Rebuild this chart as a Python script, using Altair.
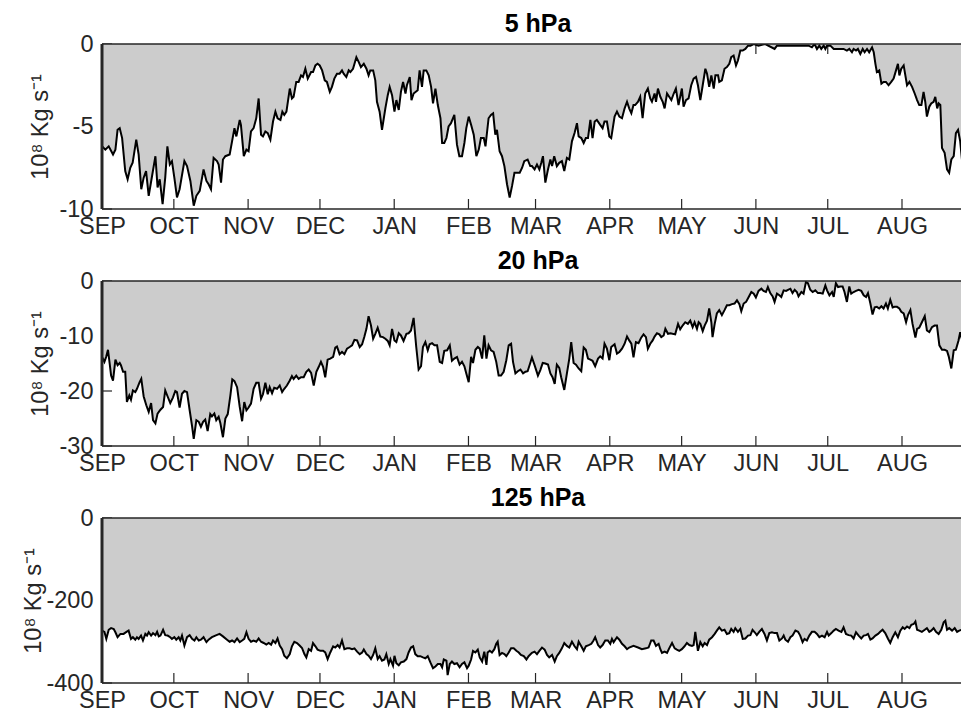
import altair as alt
import pandas as pd

MONTHS = ["SEP", "OCT", "NOV", "DEC", "JAN", "FEB", "MAR", "APR", "MAY", "JUN", "JUL", "AUG"]
MONTH_START = [0, 30, 61, 91, 122, 153, 181, 212, 242, 273, 303, 334]

TITLES = ["5 hPa", "20 hPa", "125 hPa"]
Y_MIN = [-10, -30, -400]
Y_TICKS = [[0, -5, -10], [0, -10, -20, -30], [0, -200, -400]]

# (day since 1 Sep, value in 10^8 kg/s)
P5 = [(0.0,-6.2),(1.4,-6.4),(2.8,-6.2),(4.6,-6.7),(5.6,-6.4),(6.5,-5.2),(7.4,-5.1),(8.4,-5.7),(9.7,-7.7),(10.7,-8.2),(11.8,-7.5),(12.8,-7.2),(14.3,-5.8),(15.3,-6.7),(16.4,-8.8),(17.4,-8.1),(18.4,-7.7),(19.5,-9.2),(20.9,-8.0),(22.3,-6.8),(23.2,-8.7),(24.1,-8.2),(25.3,-9.7),(26.4,-8.1),(27.3,-6.2),(28.3,-7.3),(29.2,-7.1),(30.2,-8.1),(31.3,-9.3),(32.4,-8.8),(34.4,-7.1),(35.5,-7.4),(36.9,-8.3),(38.3,-9.8),(39.4,-9.2),(40.8,-8.9),(42.4,-7.6),(43.6,-8.3),(44.5,-8.5),(45.5,-8.8),(46.6,-6.9),(48.0,-7.1),(48.7,-7.3),(49.7,-8.4),(50.5,-7.0),(51.5,-6.8),(53.3,-6.7),(54.3,-5.9),(55.3,-5.1),(56.1,-5.6),(57.5,-4.6),(58.0,-4.9),(59.2,-6.8),(60.3,-6.4),(61.2,-6.5),(62.2,-5.3),(63.3,-5.1),(64.4,-4.5),(65.4,-3.3),(66.4,-5.5),(67.2,-5.6),(68.2,-5.3),(69.2,-5.4),(70.3,-5.8),(71.4,-4.7),(72.4,-4.1),(73.3,-4.5),(74.5,-4.6),(75.3,-4.1),(76.1,-4.3),(77.0,-4.1),(78.4,-2.7),(79.3,-3.3),(80.0,-3.2),(81.1,-2.3),(82.1,-2.3),(83.1,-1.9),(83.9,-2.0),(84.9,-1.5),(85.9,-2.1),(87.3,-1.7),(88.1,-1.7),(89.1,-1.3),(90.0,-1.2),(90.9,-1.3),(91.9,-1.6),(93.0,-2.2),(93.9,-2.3),(95.1,-2.9),(96.0,-2.6),(97.0,-2.1),(98.1,-1.8),(99.2,-1.8),(100.2,-1.6),(100.9,-1.8),(102.0,-2.0),(103.0,-1.6),(103.7,-1.7),(104.8,-1.5),(106.2,-0.8),(107.2,-1.1),(108.1,-1.4),(109.3,-1.2),(110.4,-1.5),(111.3,-1.9),(112.0,-1.6),(113.2,-1.6),(114.1,-2.2),(114.8,-3.5),(115.9,-4.1),(116.9,-5.2),(118.3,-3.9),(119.3,-3.1),(120.1,-2.6),(121.1,-3.1),(122.1,-4.1),(122.9,-3.4),(123.9,-4.0),(124.8,-2.9),(125.7,-2.3),(126.7,-3.0),(127.3,-2.5),(128.5,-2.0),(129.2,-3.4),(130.1,-3.0),(131.8,-2.8),(132.6,-1.6),(133.6,-2.6),(134.3,-1.6),(135.4,-1.6),(136.4,-1.9),(137.4,-2.6),(138.2,-3.6),(139.2,-2.7),(140.2,-3.7),(141.3,-4.5),(142.0,-6.0),(142.9,-6.0),(143.8,-5.7),(144.7,-5.0),(145.7,-4.8),(147.1,-4.3),(148.2,-6.1),(149.2,-6.8),(150.3,-6.8),(151.3,-6.0),(152.1,-5.1),(153.1,-4.4),(154.1,-4.9),(155.2,-5.5),(156.3,-6.8),(157.3,-6.4),(158.2,-5.7),(159.4,-5.7),(160.1,-6.2),(161.4,-4.5),(162.4,-4.3),(163.3,-4.2),(164.2,-5.5),(164.9,-5.2),(166.0,-6.5),(167.0,-6.8),(168.0,-7.4),(169.1,-8.5),(170.2,-9.3),(171.2,-8.6),(172.2,-7.8),(173.3,-7.8),(174.4,-7.8),(175.4,-7.5),(176.3,-7.1),(177.7,-7.0),(178.8,-7.4),
(179.5,-7.4),(180.6,-7.6),(181.6,-7.3),(182.6,-7.6),(183.4,-7.2),(184.1,-6.8),(185.1,-8.4),(186.2,-7.6),(187.2,-7.0),(187.9,-7.4),(188.8,-6.8),(189.9,-7.4),(190.9,-7.2),(192.0,-7.1),(193.0,-7.7),(194.1,-6.9),(195.1,-7.0),(196.2,-5.9),(197.3,-5.4),(198.3,-4.8),(199.0,-5.6),(200.1,-5.7),(201.1,-6.0),(202.0,-5.7),(202.9,-5.7),(203.9,-4.6),(204.8,-5.7),(205.7,-4.7),(206.6,-4.6),(208.0,-4.9),(209.0,-5.1),(209.8,-4.7),(210.8,-4.7),(211.8,-5.6),(212.6,-5.7),(214.0,-4.4),(215.0,-4.1),(216.0,-4.4),(217.1,-4.5),(218.2,-3.9),(219.2,-3.5),(220.1,-3.9),(221.0,-4.2),(221.9,-3.7),(222.6,-3.7),(223.8,-3.5),(224.7,-3.2),(225.7,-4.5),(226.8,-3.0),(227.9,-2.7),(228.9,-3.3),(229.6,-3.5),(230.7,-3.0),(231.3,-3.5),(232.1,-2.7),(233.1,-3.2),(234.1,-3.5),(234.9,-3.9),(235.9,-3.0),(236.8,-3.2),(237.7,-3.4),(238.7,-3.0),(239.6,-2.7),(240.7,-3.7),(241.4,-3.2),(242.1,-2.7),(242.8,-3.8),(243.8,-3.4),(244.9,-3.3),(246.0,-2.5),(247.0,-2.1),(248.0,-2.0),(248.8,-2.5),(249.8,-3.4),(250.8,-2.5),(251.9,-1.5),(252.6,-1.8),(253.5,-2.6),(254.4,-1.9),(255.4,-2.7),(256.1,-1.9),(257.2,-1.9),(257.7,-2.3),(258.8,-2.2),(259.9,-1.5),(260.9,-1.4),(261.9,-1.2),(262.7,-0.8),(263.7,-0.7),(264.7,-1.3),(265.5,-1.0),(266.5,-0.4),(267.5,-0.4),(268.6,-0.3),(269.7,-0.1),(270.7,-0.1),(272.1,0.0),(274.1,-0.1),(276.9,0.0),(280.8,-0.3),(281.8,-0.1),(285.3,-0.1),(286.7,-0.1),(288.8,-0.1),(290.8,-0.1),(292.9,-0.1),(295.0,-0.1),(296.4,-0.2),(297.5,0.0),(298.5,-0.3),(299.5,-0.1),(300.3,-0.3),(301.3,-0.1),(302.0,-0.3),(302.7,-0.1),(304.1,-0.1),(305.5,-0.3),(306.8,-0.3),(308.2,-0.3),(309.6,-0.3),(311.0,-0.4),(312.0,-0.3),(313.1,-0.5),(313.8,-0.3),(314.8,-0.4),(315.6,-0.3),(316.6,-0.6),(317.6,-0.3),(318.4,-0.5),(319.4,-0.3),(320.3,-0.5),(321.5,-0.2),(322.2,-0.5),(322.9,-1.2),(323.5,-1.7),(324.5,-1.6),(325.4,-2.4),(326.3,-2.3),(327.3,-2.3),(328.4,-2.5),(329.5,-2.3),(330.5,-2.1),(331.5,-1.6),(332.3,-1.2),(332.9,-1.9),(333.7,-1.5),(334.7,-1.3),(335.4,-1.9),(336.1,-2.5),(337.1,-2.3),(338.2,-2.6),(339.3,-3.0),(340.3,-3.4),(341.2,-3.7),(342.1,-3.7),(343.0,-2.9),(343.7,-3.5),(344.4,-4.4),(345.4,-3.8),(346.2,-3.6),(347.2,-3.5),(347.9,-3.2),(348.7,-3.9),(349.3,-3.6),(350.0,-3.7),(350.7,-6.3),(351.8,-6.6),(352.8,-7.6),(353.7,-7.8),(354.6,-7.0),(355.6,-6.8),(356.5,-5.4),(357.4,-5.2),(358.3,-5.9),(359.3,-7.4),(360.2,-7.7),(361.1,-6.9),(362.1,-6.2),(362.4,-5.9)]

P20 = [(0.0,-13.8),(1.0,-14.7),(1.8,-13.7),(2.5,-12.5),(3.2,-15.0),(3.8,-17.2),(4.6,-18.1),(5.6,-14.3),(6.5,-15.3),(7.4,-14.9),(7.9,-15.3),(8.8,-16.5),(9.7,-16.5),(10.4,-22.0),(11.4,-20.8),(12.1,-21.6),(12.9,-19.9),(13.9,-20.2),(14.6,-19.6),(15.7,-18.4),(16.4,-17.8),(17.4,-21.0),(18.5,-22.6),(19.5,-23.8),(20.5,-22.2),(21.3,-25.3),(22.3,-25.9),(23.2,-24.1),(24.4,-23.4),(25.5,-22.9),(26.4,-19.9),(27.4,-21.0),(28.5,-22.2),(29.6,-21.2),(30.6,-20.0),(31.3,-20.2),(32.4,-23.0),(33.4,-20.5),(34.4,-20.0),(35.5,-20.2),(36.6,-23.5),(37.6,-26.4),(38.3,-28.7),(39.4,-25.3),(40.4,-25.6),(41.3,-26.5),(42.2,-25.6),(43.1,-25.2),(44.1,-27.3),(45.2,-24.2),(45.9,-24.6),(46.9,-24.1),(47.7,-25.3),(48.7,-24.7),(49.4,-25.8),(50.5,-28.4),(51.5,-25.0),(52.5,-24.2),(53.6,-20.8),(54.4,-17.9),(55.3,-18.2),(56.4,-19.3),(57.5,-22.9),(58.5,-25.5),(59.4,-22.0),(60.3,-23.5),(61.2,-23.0),(62.2,-22.3),(63.3,-19.6),(64.4,-18.5),(65.4,-18.5),(66.4,-21.4),(67.2,-20.6),(68.2,-18.5),(69.2,-20.6),(70.0,-19.3),(71.0,-20.4),(71.9,-19.4),(73.1,-19.6),(74.2,-19.0),(75.2,-20.2),(76.1,-19.6),(77.2,-19.0),(78.4,-18.1),(79.3,-17.3),(80.0,-17.8),(81.1,-17.2),(82.1,-17.8),(83.1,-17.5),(84.2,-17.5),(85.3,-16.5),(86.3,-16.1),(87.3,-16.7),(88.4,-19.0),(89.5,-16.5),(90.5,-15.6),(91.4,-14.7),(92.3,-15.6),(93.2,-17.5),(94.2,-14.3),(95.3,-14.1),(96.5,-13.8),(97.4,-12.1),(98.1,-11.9),(99.2,-13.3),(100.2,-12.9),(101.2,-13.3),(102.3,-12.3),(103.4,-12.0),(104.4,-11.7),(105.4,-10.7),(106.5,-10.8),(107.6,-12.0),(108.6,-11.5),(109.5,-10.2),(110.4,-8.7),(111.3,-6.4),(112.3,-8.1),(113.2,-10.5),(114.1,-9.6),(115.1,-8.5),(116.2,-10.1),(117.3,-10.2),(118.3,-10.5),(119.3,-10.9),(120.1,-11.7),(121.1,-8.7),(122.1,-10.8),(122.9,-11.1),(123.9,-9.5),(124.8,-9.9),(125.9,-10.9),(127.1,-9.6),(128.0,-9.5),(129.0,-9.0),(130.1,-6.7),(131.2,-12.0),(132.2,-16.1),(133.2,-15.5),(134.0,-12.0),(135.0,-11.1),(136.0,-12.6),(136.8,-11.5),(137.8,-11.3),(138.8,-11.7),(139.9,-11.7),(141.0,-14.7),(142.0,-14.9),(142.9,-12.7),(144.1,-12.6),(145.2,-11.7),(146.1,-14.5),(147.1,-14.1),(148.2,-13.8),(149.3,-15.2),(150.3,-14.7),(151.3,-15.5),(152.1,-16.8),(153.1,-18.4),(154.1,-13.8),(154.9,-14.9),(155.9,-12.5),(156.9,-12.0),(157.7,-12.3),(158.7,-14.1),(159.6,-9.9),(160.5,-14.1),(161.4,-11.7),(162.4,-12.6),(163.5,-12.9),(164.6,-14.7),(165.6,-17.2),(166.6,-17.2),(167.7,-16.5),(168.8,-14.4),(169.8,-11.7),(170.8,-11.4),(171.6,-14.7),(172.6,-16.8),(173.6,-16.4),(174.7,-16.1),(175.8,-16.8),(176.8,-16.5),(177.7,-16.4),(178.8,-14.9),
(179.5,-13.9),(180.6,-15.3),(182.0,-17.2),(183.0,-16.2),(184.0,-14.9),(185.1,-15.0),(186.2,-15.2),(187.2,-16.8),(188.1,-17.5),(189.0,-18.7),(189.9,-15.2),(190.9,-15.8),(191.7,-17.5),(193.0,-19.8),(194.1,-16.8),(195.1,-14.1),(195.9,-11.1),(196.9,-14.9),(197.9,-15.2),(199.0,-15.9),(200.1,-16.4),(201.1,-12.1),(202.0,-12.5),(202.9,-14.1),(203.9,-14.3),(204.8,-14.5),(205.9,-15.5),(207.1,-14.1),(208.0,-13.7),(209.0,-14.1),(209.8,-11.4),(210.8,-12.3),(211.8,-14.4),(212.6,-12.0),(214.0,-11.5),(215.0,-13.2),(216.0,-12.9),(217.1,-12.3),(218.2,-11.4),(219.2,-10.1),(220.1,-10.8),(221.0,-11.4),(221.9,-13.9),(222.9,-11.1),(224.0,-11.3),(225.1,-10.3),(226.1,-9.7),(227.1,-10.2),(227.9,-12.3),(228.9,-11.4),(229.9,-10.8),(230.7,-10.1),(231.7,-9.5),(232.7,-9.7),(233.5,-10.2),(234.5,-9.9),(235.2,-8.7),(236.3,-9.6),(237.3,-9.5),(238.2,-9.6),(239.3,-9.7),(240.5,-7.8),(241.4,-8.8),(242.4,-8.1),(243.5,-7.5),(244.6,-7.8),(245.6,-7.2),(246.6,-8.4),(247.4,-7.5),(248.4,-8.7),(249.1,-7.5),(249.8,-7.8),(250.8,-9.1),(251.6,-8.1),(252.6,-7.2),(253.5,-5.0),(254.4,-7.5),(254.9,-10.2),(255.8,-7.8),(256.7,-5.9),(257.7,-5.3),(258.8,-6.2),(259.9,-5.3),(260.9,-4.4),(261.9,-4.4),(263.0,-4.2),(264.1,-4.1),(265.1,-3.5),(266.1,-4.2),(266.9,-5.5),(267.9,-4.1),(268.9,-3.8),(270.0,-2.9),(271.1,-2.0),(272.1,-2.3),(273.0,-3.0),(274.1,-1.8),(275.3,-1.4),(276.2,-1.8),(277.2,-2.0),(278.0,-1.1),(279.0,-2.2),(280.0,-2.8),(280.8,-3.8),(281.8,-2.3),(282.8,-2.6),(283.6,-2.9),(284.6,-1.7),(285.6,-1.8),(286.4,-1.6),(287.4,-1.4),(288.3,-2.2),(289.2,-1.6),(290.1,-2.0),(290.8,-2.8),(292.0,-2.0),(292.9,-2.3),(293.9,-0.2),(294.7,-0.4),(295.7,-1.6),(296.7,-2.0),(297.8,-1.7),(298.9,-2.2),(299.9,-2.2),(300.9,-2.3),(302.0,-0.8),(302.7,-1.7),(303.7,-2.6),(304.8,-2.0),(305.5,-2.9),(306.4,-0.4),(307.3,-1.1),(308.2,-1.0),(309.2,-1.0),(310.0,-2.0),(311.0,-3.8),(312.0,-1.0),(312.8,-2.3),(313.8,-2.0),(314.8,-1.8),(315.9,-1.6),(317.0,-1.8),(318.0,-2.6),(319.0,-2.9),(319.8,-2.2),(320.8,-4.1),(321.7,-6.1),(322.6,-4.8),(323.5,-4.7),(324.5,-5.0),(325.4,-4.6),(326.3,-5.0),(327.3,-4.1),(328.1,-5.0),(329.1,-3.4),(330.1,-4.8),(330.9,-4.7),(331.9,-4.7),(332.9,-5.0),(333.7,-5.6),(334.7,-5.9),(335.7,-7.5),(336.5,-6.2),(337.5,-5.3),(338.4,-7.8),(339.6,-10.3),(340.3,-8.7),(341.2,-8.5),(342.3,-7.5),(343.5,-6.4),(344.4,-9.0),(345.4,-9.3),(346.5,-8.4),(347.6,-8.1),(348.6,-8.1),(349.6,-11.7),(350.7,-12.5),(351.8,-12.5),(352.8,-12.7),(353.5,-13.7),(354.6,-15.9),(355.6,-12.6),(356.5,-12.5),(357.6,-10.8),(358.3,-9.3),(359.3,-11.1),(360.4,-12.9),(361.5,-14.1),(362.4,-13.8)]

P125 = [(0.0,-273),(1.0,-276),(1.8,-293),(2.8,-271),(3.8,-267),(4.9,-269),(5.6,-277),(6.5,-289),(7.7,-281),(9.0,-281),(10.2,-276),(11.1,-273),(12.1,-293),(12.9,-289),(13.9,-295),(14.6,-289),(15.3,-293),(16.3,-285),(17.1,-297),(18.1,-281),(18.8,-285),(19.5,-277),(20.5,-285),(21.3,-279),(22.3,-284),(23.0,-276),(23.7,-287),(24.4,-285),(25.5,-271),(26.4,-284),(27.4,-285),(28.5,-289),(29.2,-293),(30.2,-289),(31.0,-295),(32.0,-289),(32.7,-297),(33.4,-285),(34.4,-309),(35.5,-289),(36.6,-284),(37.6,-293),(38.6,-297),(39.4,-289),(40.4,-297),(41.3,-295),(42.4,-289),(43.6,-301),(44.5,-295),(45.9,-289),(47.3,-285),(49.1,-281),(50.5,-287),(52.2,-295),(53.3,-300),(54.3,-297),(55.3,-301),(56.4,-292),(57.5,-301),(58.5,-297),(59.4,-293),(60.3,-277),(61.2,-293),(62.2,-300),(63.3,-297),(64.4,-300),(65.4,-292),(66.4,-300),(67.5,-303),(68.6,-307),(69.6,-303),(70.6,-307),(71.4,-297),(72.4,-303),(73.3,-292),(74.2,-309),(75.2,-318),(76.1,-334),(77.2,-340),(78.4,-330),(79.3,-311),(80.3,-300),(81.4,-303),(82.5,-309),(83.5,-315),(84.5,-330),(85.3,-338),(86.3,-318),(87.3,-322),(88.1,-303),(89.1,-311),(90.0,-319),(91.2,-322),(92.3,-322),(93.2,-326),(94.2,-342),(95.3,-326),(96.5,-311),(97.4,-314),(98.4,-308),(99.2,-314),(100.2,-297),(101.2,-318),(102.3,-316),(103.4,-316),(104.4,-318),(105.4,-316),(106.5,-324),(107.6,-330),(108.6,-326),(109.3,-319),(110.4,-330),(111.3,-334),(112.3,-342),(113.2,-332),(114.1,-316),(115.1,-342),(115.9,-335),(116.9,-346),(117.9,-343),(118.7,-330),(119.7,-354),(120.4,-342),(121.5,-358),(122.1,-334),(122.9,-352),(123.9,-357),(124.8,-350),(126.0,-348),(127.1,-342),(128.0,-326),(129.0,-314),(129.9,-311),(130.8,-330),(131.8,-335),(132.9,-335),(134.0,-338),(135.0,-340),(136.0,-335),(137.1,-350),(138.2,-364),(139.2,-360),(140.2,-354),(141.3,-354),(142.0,-362),(142.7,-343),(143.8,-346),(144.3,-381),(145.2,-354),(146.1,-348),(147.1,-354),(148.2,-352),(149.3,-362),(150.3,-354),(151.3,-350),(152.4,-364),(153.1,-358),(154.1,-343),(154.9,-322),(155.9,-326),(156.9,-319),(157.7,-338),(158.7,-348),(159.6,-324),(160.5,-356),(161.0,-326),(161.9,-322),(162.8,-326),(163.8,-318),(164.6,-305),(165.2,-300),(166.0,-332),(167.0,-327),(168.0,-330),(168.8,-335),(169.8,-326),(170.8,-316),(171.9,-316),(173.0,-322),(174.0,-326),(174.9,-332),(176.1,-335),(177.2,-343),(178.1,-335),
(179.5,-327),(180.6,-324),(181.6,-330),(182.6,-322),(183.7,-314),(184.8,-319),(185.8,-332),(186.7,-338),(187.9,-332),(189.0,-348),(189.9,-335),(190.9,-327),(192.0,-316),(193.0,-303),(194.1,-310),(195.1,-314),(196.2,-300),(197.3,-311),(198.3,-318),(199.0,-300),(200.1,-311),(201.1,-322),(202.0,-311),(203.2,-308),(204.3,-305),(205.2,-297),(205.9,-289),(207.1,-308),(208.0,-314),(209.0,-308),(210.1,-297),(211.2,-297),(212.2,-305),(212.9,-293),(213.6,-301),(215.0,-289),(216.0,-295),(217.1,-305),(218.2,-311),(219.2,-318),(220.1,-314),(221.9,-310),(223.8,-314),(225.4,-318),(227.1,-316),(228.2,-314),(229.3,-297),(230.3,-297),(231.3,-310),(232.4,-305),(233.1,-318),(233.8,-327),(234.9,-324),(235.9,-327),(236.8,-316),(238.0,-303),(239.1,-316),(240.0,-319),(241.0,-322),(242.1,-318),(243.2,-311),(244.2,-303),(245.2,-308),(246.3,-310),(247.0,-308),(247.7,-276),(248.8,-322),(249.8,-301),(250.8,-311),(251.6,-303),(252.6,-308),(253.5,-295),(254.7,-289),(255.8,-281),(256.7,-273),(257.7,-265),(258.8,-273),(259.9,-271),(260.9,-281),(261.9,-279),(262.7,-269),(263.7,-276),(264.4,-267),(265.5,-276),(266.5,-269),(267.5,-293),(268.6,-292),(269.7,-285),(270.7,-284),(271.6,-271),(272.5,-277),(273.4,-284),(274.4,-276),(275.5,-269),(276.6,-281),(277.6,-297),(278.6,-279),(279.7,-277),(280.8,-279),(281.8,-279),(282.8,-297),(283.9,-292),(284.6,-285),(285.3,-295),(286.4,-300),(287.4,-289),(288.3,-285),(289.5,-273),(290.6,-276),(291.5,-285),(292.5,-301),(293.3,-293),(294.3,-297),(295.3,-285),(296.4,-276),(297.5,-276),(298.5,-281),(299.5,-289),(300.6,-285),(301.7,-289),(302.7,-276),(303.4,-285),(304.5,-279),(305.5,-273),(306.4,-269),(307.5,-273),(308.7,-276),(309.6,-265),(310.6,-281),(311.7,-284),(312.8,-285),(313.8,-292),(314.8,-277),(315.9,-285),(317.0,-292),(318.0,-285),(319.0,-284),(319.8,-281),(320.8,-295),(321.7,-292),(322.9,-285),(324.0,-281),(324.9,-276),(325.9,-271),(327.0,-279),(328.1,-292),(329.1,-303),(330.1,-289),(331.2,-277),(332.3,-289),(333.3,-273),(334.3,-265),(335.1,-269),(336.1,-263),(337.1,-267),(337.9,-259),(338.9,-257),(339.6,-251),(340.3,-271),(341.2,-273),(342.3,-276),(343.5,-271),(344.4,-267),(345.4,-276),(346.2,-273),(347.2,-267),(348.2,-276),(349.3,-281),(350.4,-271),(351.4,-253),(352.1,-249),(352.8,-271),(353.7,-267),(354.9,-273),(356.0,-267),(357.0,-276),(357.9,-273),(359.0,-271),(360.2,-267),(361.1,-277),(362.4,-265)]

SERIES = [P5, P20, P125]

W = 859
PX_PER_DAY = 2.3952
X_MAX = W / PX_PER_DAY
H = 165
TICK_LEN = 10
FONT = "Liberation Sans"
INK = "#262626"
FILL = "#cccccc"
LABEL_SIZE = 23.5
TITLE_SIZE = 25
TITLE_X = [-55, -55, -62]

label_expr = "[" + ",".join("'%s'" % m for m in MONTHS) + "][indexof([" + \
    ",".join(str(d) for d in MONTH_START) + "], datum.value)]"


def panel(title, pts, ymin, yticks, title_x):
    df = pd.DataFrame(pts, columns=["day", "v"])
    xscale = alt.Scale(domain=[0, X_MAX], nice=False, zero=False)
    yscale = alt.Scale(domain=[ymin, 0], nice=False)
    xaxis = alt.Axis(values=MONTH_START, labelExpr=label_expr, ticks=False, tickSize=0,
                     domain=False, grid=False, title=None, labelFont=FONT,
                     labelFontSize=LABEL_SIZE, labelColor=INK, labelPadding=5,
                     labelFlush=False, labelOverlap=False)
    yaxis = alt.Axis(values=yticks, labelExpr="'' + datum.value", ticks=False, tickSize=0,
                     domain=False, grid=False, title="10⁸ Kg s⁻¹", titleFont=FONT,
                     titleFontSize=LABEL_SIZE, titleFontWeight="normal", titleColor=INK,
                     titleAngle=270, titleX=title_x, titleY=H / 2, titleAlign="center",
                     titleBaseline="alphabetic", labelFont=FONT, labelFontSize=LABEL_SIZE,
                     labelColor=INK, labelPadding=9, labelFlush=False, labelOverlap=False)

    def X(field="day"):
        return alt.X(f"{field}:Q", scale=xscale, axis=xaxis)

    def Y(field="v"):
        return alt.Y(f"{field}:Q", scale=yscale, axis=yaxis)

    months_df = pd.DataFrame({"day": MONTH_START})
    yt_df = pd.DataFrame({"v": yticks})
    one = pd.DataFrame({"a": [0]})
    title_df = pd.DataFrame({"t": [title]})

    bottom_ticks = alt.Chart(months_df).mark_rule(color=INK, strokeWidth=1.2).encode(
        x=X(), y=alt.value(H), y2=alt.value(H - TICK_LEN))
    top_ticks = alt.Chart(months_df).mark_rule(color=INK, strokeWidth=1.2).encode(
        x=X(), y=alt.value(0), y2=alt.value(TICK_LEN))
    left_ticks = alt.Chart(yt_df).mark_rule(color=INK, strokeWidth=1.2).encode(
        y=Y(), x=alt.value(0), x2=alt.value(TICK_LEN))
    area = alt.Chart(df).mark_area(color=FILL, opacity=1, clip=True).encode(x=X(), y=Y())
    line = alt.Chart(df).mark_line(color="black", strokeWidth=2, clip=True).encode(x=X(), y=Y())
    top = alt.Chart(one).mark_rule(color=INK, strokeWidth=1.5).encode(
        x=alt.value(0), x2=alt.value(W), y=alt.value(0))
    bottom = alt.Chart(one).mark_rule(color=INK, strokeWidth=1.5).encode(
        x=alt.value(0), x2=alt.value(W), y=alt.value(H))
    left = alt.Chart(one).mark_rule(color=INK, strokeWidth=3).encode(
        x=alt.value(0), y=alt.value(0), y2=alt.value(H))
    head = alt.Chart(title_df).mark_text(font=FONT, fontSize=TITLE_SIZE, fontWeight="bold",
                                         color="black", align="center",
                                         baseline="alphabetic").encode(
        text="t:N", x=alt.value(436), y=alt.value(-12))

    return alt.layer(bottom_ticks, top_ticks, left_ticks, area, line, top, bottom, left,
                     head).properties(width=W, height=H)


panels = [panel(t, p, m, yt, tx)
          for t, p, m, yt, tx in zip(TITLES, SERIES, Y_MIN, Y_TICKS, TITLE_X)]

chart = alt.vconcat(*panels, spacing=72, bounds="flush").properties(
    padding={"left": 13, "top": 4, "right": 0, "bottom": 0},
    background="white",
).configure_view(stroke=None)

chart.save("out.html", embed_options={"renderer": "svg", "actions": False})
